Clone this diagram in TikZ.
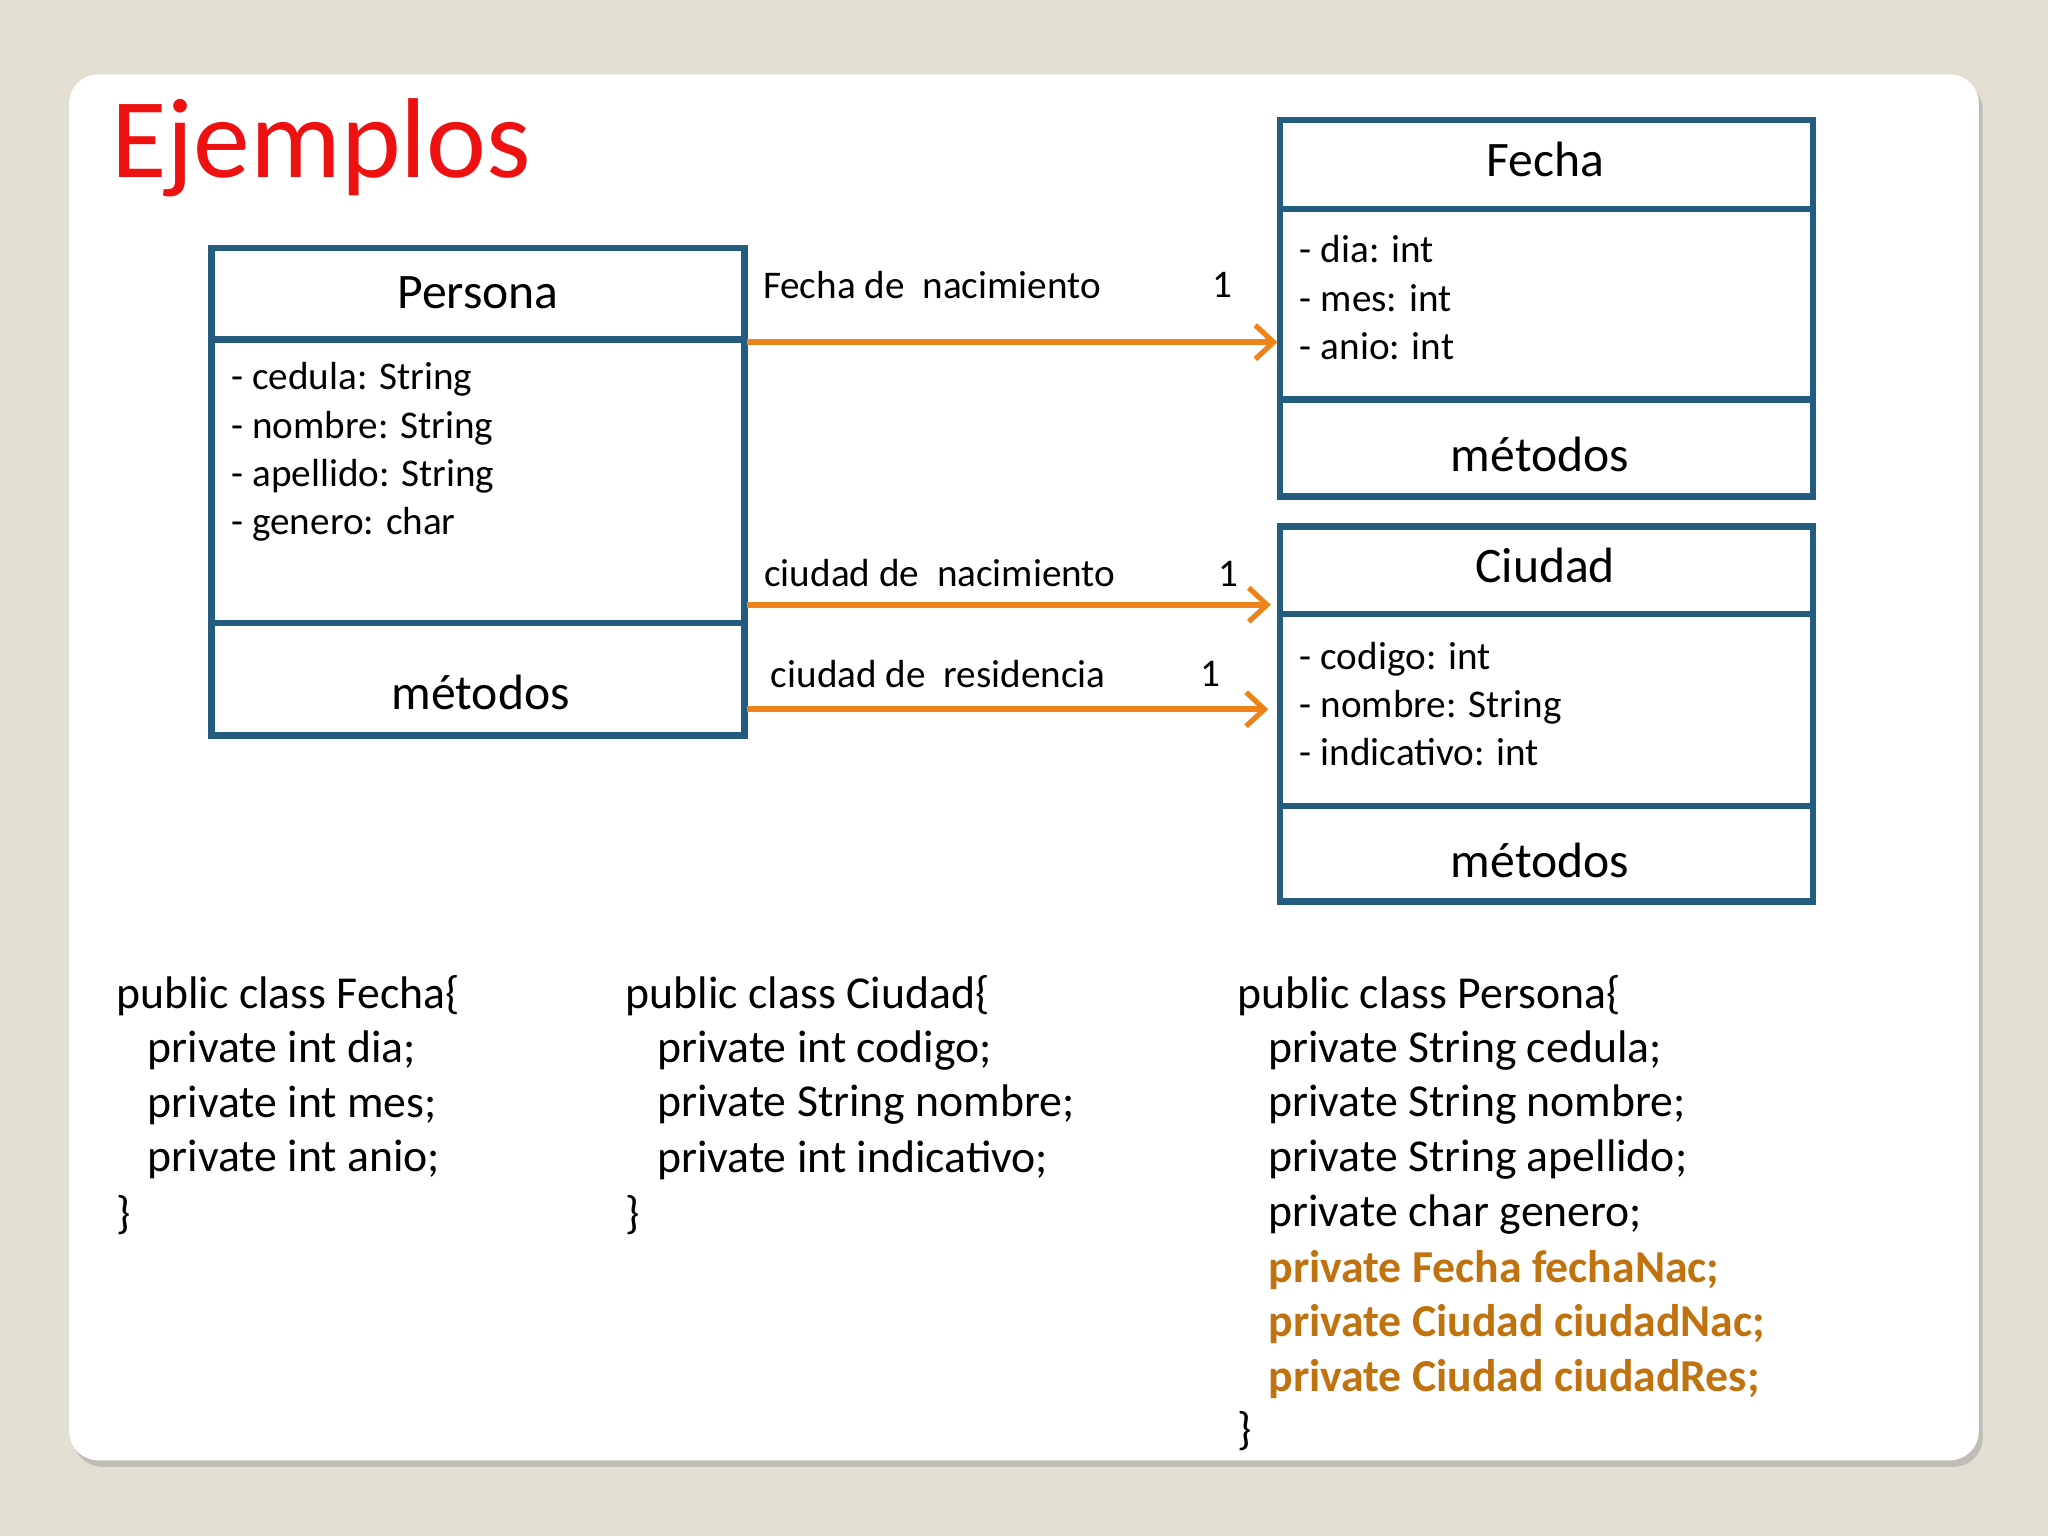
\documentclass[tikz,border=0pt]{standalone}
\usepackage{fontspec}
\setmainfont{Carlito}
\usetikzlibrary{shadows,arrows.meta}
\definecolor{bg}{HTML}{E3DFD3}
\definecolor{umlblue}{HTML}{245C80}
\definecolor{arr}{HTML}{EE8419}
\definecolor{code}{HTML}{C0720F}
\definecolor{ttl}{HTML}{EE1111}
\tikzset{
  umlbox/.style={draw=umlblue,line width=5pt},
  sep/.style={draw=umlblue,line width=5pt},
  assoc/.style={draw=arr,line width=4.5pt,-{Straight Barb[length=14pt,width=26pt,line width=4pt]}},
  hd/.style={font=\fontsize{38}{40}\selectfont,anchor=center,inner sep=0},
  attr/.style={font=\fontsize{30}{37}\selectfont,anchor=west,inner sep=0,align=left},
  lbl/.style={font=\fontsize{30}{30}\selectfont,anchor=west,inner sep=0},
  cd/.style={font=\fontsize{35}{42}\selectfont,anchor=west,inner sep=0},
  cdb/.style={font=\fontsize{35}{42}\selectfont\bfseries,text=code,anchor=west,inner sep=0}
}
\begin{document}
\begin{tikzpicture}[x=1pt,y=-1pt]
\useasboundingbox (0,0) rectangle (1568,1176);
\fill[bg] (0,0) rectangle (1568,1176);
\fill[white,rounded corners=22pt,drop shadow={shadow xshift=3pt,shadow yshift=-5pt,opacity=0.35}] (53,57) rectangle (1515,1118);
\node[anchor=west,inner sep=0,text=ttl,font=\fontsize{87}{90}\selectfont] (title) at (85,113) {Ejemplos};
% Persona
\draw[umlbox] (162,190) rectangle (570,563);
\draw[sep] (162,260) -- (570,260);
\draw[sep] (162,477) -- (570,477);
\node[hd] (pn) at (366,224) {Persona};
\node[attr] (pa) at (177,346) {- cedula: String\\- nombre: String\\- apellido: String\\- genero: char};
\node[hd] (pm) at (368,530) {métodos};
% Fecha
\draw[umlbox] (980,92) rectangle (1388,380);
\draw[sep] (980,160) -- (1388,160);
\draw[sep] (980,306) -- (1388,306);
\node[hd] (fn) at (1183,122) {Fecha};
\node[attr] (fa) at (995,228) {- dia: int\\- mes: int\\- anio: int};
\node[hd] (fm) at (1179,348) {métodos};
% Ciudad
\draw[umlbox] (980,403) rectangle (1388,690);
\draw[sep] (980,470) -- (1388,470);
\draw[sep] (980,617) -- (1388,617);
\node[hd] (cn) at (1183,433) {Ciudad};
\node[attr] (ca) at (995,539) {- codigo: int\\- nombre: String\\- indicativo: int};
\node[hd] (cm) at (1179,659) {métodos};
% arrows
\coordinate (a1s) at (572,262); \coordinate (a1e) at (978,262);
\coordinate (a2s) at (572,463); \coordinate (a2e) at (973,463);
\coordinate (a3s) at (572,543); \coordinate (a3e) at (971,543);
\draw[assoc] (a1s) -- (a1e);
\draw[assoc] (a2s) -- (a2e);
\draw[assoc] (a3s) -- (a3e);
\node[lbl] (l1) at (584,218) {Fecha de\ \ nacimiento};
\node[lbl] (m1) at (928,218) {1};
\node[lbl] (l2) at (585,439) {ciudad de\ \ nacimiento};
\node[lbl] (m2) at (933,439) {1};
\node[lbl] (l3) at (590,516) {ciudad de\ \ residencia};
\node[lbl] (m3) at (919,516) {1};
% code
\node[cd] (f0) at (89,762) {public class Fecha\{};
\node[cd] (f1) at (113,804) {private int dia;};
\node[cd] (f2) at (113,846) {private int mes;};
\node[cd] (f3) at (113,888) {private int anio;};
\node[cd] (f4) at (89,930) {\}};
\node[cd] (c0) at (479,762) {public class Ciudad\{};
\node[cd] (c1) at (503,804) {private int codigo;};
\node[cd] (c2) at (503,846) {private String nombre;};
\node[cd] (c3) at (503,888) {private int indicativo;};
\node[cd] (c4) at (479,930) {\}};
\node[cd] (p0) at (947,762) {public class Persona\{};
\node[cd] (p1) at (971,804) {private String cedula;};
\node[cd] (p2) at (971,846) {private String nombre;};
\node[cd] (p3) at (971,888) {private String apellido;};
\node[cd] (p4) at (971,930) {private char genero;};
\node[cdb] (p5) at (971,972) {private Fecha fechaNac;};
\node[cdb] (p6) at (971,1014) {private Ciudad ciudadNac;};
\node[cdb] (p7) at (971,1056) {private Ciudad ciudadRes;};
\node[cd] (p8) at (947,1096) {\}};
\end{tikzpicture}
\end{document}
